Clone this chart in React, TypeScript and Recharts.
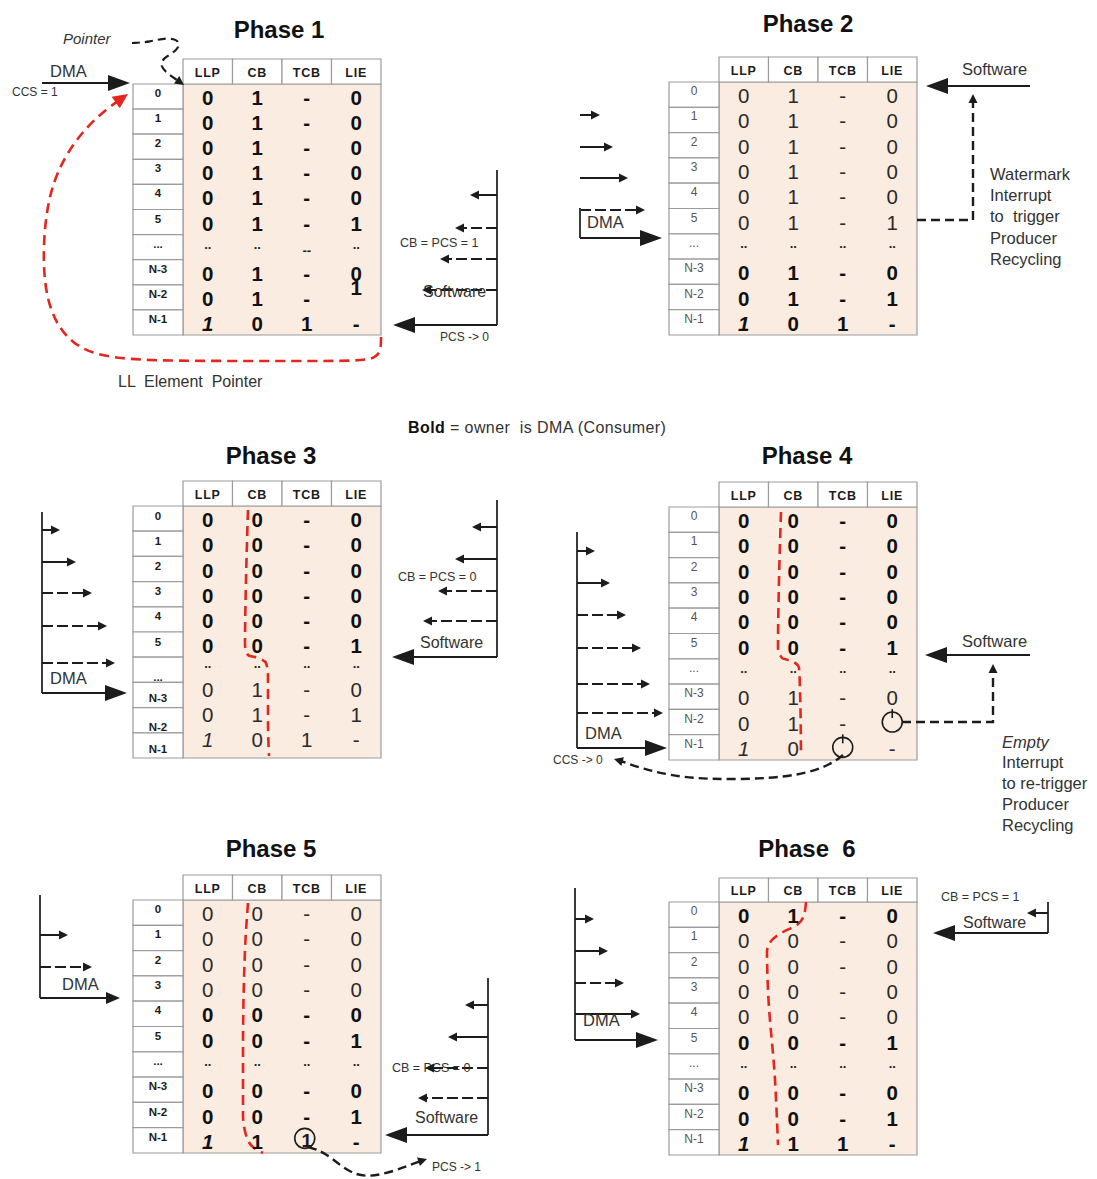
import React from "react";
import { ComposedChart, XAxis, YAxis, Line, Scatter, ReferenceArea } from "recharts";

const W = 1097;
const H = 1179;
const FONT = '"Liberation Sans", Arial, Helvetica, sans-serif';
const INK = "#1c1c1c";
const TXT = "#333333";
const RED = "#e3261f";
const PEACH = "#fbece1";
const GRID = "#9c9c9c";

const columns = ["LLP", "CB", "TCB", "LIE"];
const rowLabels = ["0", "1", "2", "3", "4", "5", "...", "N-3", "N-2", "N-1"];

// cell values per row: LLP, CB, TCB, LIE ("o" = empty circle, "(1)" = circled 1)
const phase1Values = [
  ["0", "1", "-", "0"],
  ["0", "1", "-", "0"],
  ["0", "1", "-", "0"],
  ["0", "1", "-", "0"],
  ["0", "1", "-", "0"],
  ["0", "1", "-", "1"],
  ["..", "..", "--", ".."],
  ["0", "1", "-", "0"],
  ["0", "1", "-", "1"],
  ["1", "0", "1", "-"],
];
const phase2Values = [
  ["0", "1", "-", "0"],
  ["0", "1", "-", "0"],
  ["0", "1", "-", "0"],
  ["0", "1", "-", "0"],
  ["0", "1", "-", "0"],
  ["0", "1", "-", "1"],
  ["..", "..", "..", ".."],
  ["0", "1", "-", "0"],
  ["0", "1", "-", "1"],
  ["1", "0", "1", "-"],
];
const phase3Values = [
  ["0", "0", "-", "0"],
  ["0", "0", "-", "0"],
  ["0", "0", "-", "0"],
  ["0", "0", "-", "0"],
  ["0", "0", "-", "0"],
  ["0", "0", "-", "1"],
  ["..", "..", "..", ".."],
  ["0", "1", "-", "0"],
  ["0", "1", "-", "1"],
  ["1", "0", "1", "-"],
];
const phase4Values = [
  ["0", "0", "-", "0"],
  ["0", "0", "-", "0"],
  ["0", "0", "-", "0"],
  ["0", "0", "-", "0"],
  ["0", "0", "-", "0"],
  ["0", "0", "-", "1"],
  ["..", "..", "..", ".."],
  ["0", "1", "-", "0"],
  ["0", "1", "-", "o"],
  ["1", "0", "o", "-"],
];
const phase5Values = [
  ["0", "0", "-", "0"],
  ["0", "0", "-", "0"],
  ["0", "0", "-", "0"],
  ["0", "0", "-", "0"],
  ["0", "0", "-", "0"],
  ["0", "0", "-", "1"],
  ["..", "..", "..", ".."],
  ["0", "0", "-", "0"],
  ["0", "0", "-", "1"],
  ["1", "1", "(1)", "-"],
];
const phase6Values = [
  ["0", "1", "-", "0"],
  ["0", "0", "-", "0"],
  ["0", "0", "-", "0"],
  ["0", "0", "-", "0"],
  ["0", "0", "-", "0"],
  ["0", "0", "-", "1"],
  ["..", "..", "..", ".."],
  ["0", "0", "-", "0"],
  ["0", "0", "-", "1"],
  ["1", "1", "1", "-"],
];

// bold rows = owner is DMA
const phase1Bold = [1, 1, 1, 1, 1, 1, 1, 1, 1, 1];
const phase2Bold = [0, 0, 0, 0, 0, 0, 1, 1, 1, 1];
const phase3Bold = [1, 1, 1, 1, 1, 1, 1, 0, 0, 0];
const phase4Bold = [1, 1, 1, 1, 1, 1, 0, 0, 0, 0];
const phase5Bold = [0, 0, 0, 0, 1, 1, 1, 1, 1, 1];
const phase6Bold = [1, 0, 0, 0, 0, 1, 1, 1, 1, 1];

const titles = ["Phase 1", "Phase 2", "Phase 3", "Phase 4", "Phase 5", "Phase  6"];

const phaseValues = [phase1Values, phase2Values, phase3Values, phase4Values, phase5Values, phase6Values];
const phaseBold = [phase1Bold, phase2Bold, phase3Bold, phase4Bold, phase5Bold, phase6Bold];

// ---- layout ----
const LABEL_W = 50;
const COL_W = 49.5;

type TableLayout = {
  x: number;
  top: number;
  rowsTop: number;
  bottom: number;
  titleX: number;
  titleY: number;
  labelBold: boolean;
  labelDy?: number[];
  valueDy?: number[];
  cellDy?: Record<string, number>;
};

const tableLayout: TableLayout[] = [
  { x: 133, top: 59, rowsTop: 84, bottom: 335, titleX: 279, titleY: 29, labelBold: true, cellDy: { "8-3": -11 } },
  { x: 669, top: 57, rowsTop: 82, bottom: 335, titleX: 808, titleY: 23, labelBold: false },
  {
    x: 133, top: 481, rowsTop: 506, bottom: 758, titleX: 271, titleY: 455, labelBold: true,
    labelDy: [-3, -3, -3, -3, -3, -3, 7, 3, 7, 4],
    valueDy: [0, 0, 0, 0, 0, 0, -3, -7, -7, -7],
  },
  { x: 669, top: 482, rowsTop: 507, bottom: 760, titleX: 807, titleY: 455, labelBold: false },
  { x: 133, top: 875, rowsTop: 900, bottom: 1153, titleX: 271, titleY: 848, labelBold: true },
  { x: 669, top: 878, rowsTop: 902, bottom: 1155, titleX: 807, titleY: 848, labelBold: false },
];

type Note = { text?: string; parts?: { t: string; b?: boolean }[]; x: number; y: number; size: number; italic?: boolean; ls?: number };

const notes: Note[] = [
  { text: "Pointer", x: 63, y: 38, size: 15, italic: true },
  { text: "DMA", x: 50, y: 71, size: 16.5 },
  { text: "CCS = 1", x: 12, y: 92, size: 12 },
  { text: "CB = PCS = 1", x: 400, y: 243, size: 12.5 },
  { text: "Software", x: 423, y: 291, size: 16 },
  { text: "PCS -> 0", x: 440, y: 337, size: 12 },
  { text: "LL  Element  Pointer", x: 118, y: 381, size: 16 },
  { text: "Software", x: 962, y: 69, size: 16.5 },
  { text: "DMA", x: 587, y: 222, size: 16.5 },
  { text: "Watermark", x: 990, y: 174, size: 16.5 },
  { text: "Interrupt", x: 990, y: 195, size: 16.5 },
  { text: "to  trigger", x: 990, y: 216, size: 16.5 },
  { text: "Producer", x: 990, y: 238, size: 16.5 },
  { text: "Recycling", x: 990, y: 259, size: 16.5 },
  { parts: [{ t: "Bold", b: true }, { t: " = owner  is DMA (Consumer)" }], x: 408, y: 427, size: 16, ls: 0.4 },
  { text: "DMA", x: 50, y: 678, size: 16.5 },
  { text: "CB = PCS = 0", x: 398, y: 577, size: 12.5 },
  { text: "Software", x: 420, y: 642, size: 16 },
  { text: "DMA", x: 585, y: 733, size: 16.5 },
  { text: "CCS -> 0", x: 553, y: 760, size: 12 },
  { text: "Software", x: 962, y: 641, size: 16.5 },
  { text: "Empty", x: 1002, y: 742, size: 16.5, italic: true },
  { text: "Interrupt", x: 1002, y: 762, size: 16.5 },
  { text: "to re-trigger", x: 1002, y: 783, size: 16.5 },
  { text: "Producer", x: 1002, y: 804, size: 16.5 },
  { text: "Recycling", x: 1002, y: 825, size: 16.5 },
  { text: "DMA", x: 62, y: 984, size: 16.5 },
  { text: "CB = PCS = 0", x: 392, y: 1068, size: 12.5 },
  { text: "Software", x: 415, y: 1117, size: 16 },
  { text: "PCS -> 1", x: 432, y: 1167, size: 12 },
  { text: "DMA", x: 583, y: 1020, size: 16.5 },
  { text: "CB = PCS = 1", x: 941, y: 897, size: 12.5 },
  { text: "Software", x: 963, y: 922, size: 16 },
];

// straight arrows: x1, y1, x2 (tip), y2 (tip), head size, dashed
const arrows: [number, number, number, number, string, number][] = [
  // phase 1
  [42, 83, 130, 83, "L", 0],
  [497, 170, 497, 325, "", 0],
  [497, 195, 470, 195, "S", 0],
  [497, 228, 455, 228, "S", 1],
  [497, 259, 440, 259, "S", 1],
  [497, 290, 422, 290, "S", 1],
  [497, 325, 393, 325, "L", 0],
  // phase 2
  [580, 115, 600, 115, "S", 0],
  [580, 147, 613, 147, "S", 0],
  [580, 178, 628, 178, "S", 0],
  [580, 210, 645, 210, "S", 1],
  [580, 208, 580, 238, "", 0],
  [580, 238, 662, 238, "L", 0],
  [1030, 86, 926, 86, "L", 0],
  // phase 3
  [42, 512, 42, 693, "", 0],
  [42, 530, 60, 530, "S", 0],
  [42, 562, 76, 562, "S", 0],
  [42, 593, 92, 593, "S", 1],
  [42, 626, 107, 626, "S", 1],
  [42, 663, 115, 663, "S", 1],
  [42, 693, 127, 693, "L", 0],
  [497, 500, 497, 657, "", 0],
  [497, 527, 472, 527, "S", 0],
  [497, 559, 455, 559, "S", 0],
  [497, 591, 438, 591, "S", 1],
  [497, 621, 423, 621, "S", 1],
  [497, 657, 392, 657, "L", 0],
  // phase 4
  [577, 532, 577, 748, "", 0],
  [577, 551, 595, 551, "S", 0],
  [577, 583, 610, 583, "S", 0],
  [577, 615, 626, 615, "S", 1],
  [577, 648, 641, 648, "S", 1],
  [577, 684, 650, 684, "S", 1],
  [577, 713, 663, 713, "S", 1],
  [577, 748, 667, 748, "L", 0],
  [1030, 655, 925, 655, "L", 0],
  // phase 5
  [40, 895, 40, 998, "", 0],
  [40, 935, 68, 935, "S", 0],
  [40, 967, 92, 967, "S", 1],
  [40, 998, 120, 998, "M", 0],
  [488, 978, 488, 1135, "", 0],
  [488, 1005, 465, 1005, "S", 0],
  [488, 1037, 448, 1037, "S", 0],
  [488, 1068, 425, 1068, "S", 1],
  [488, 1098, 418, 1098, "S", 1],
  [488, 1135, 385, 1135, "L", 0],
  // phase 6
  [575, 888, 575, 1040, "", 0],
  [575, 919, 594, 919, "S", 0],
  [575, 951, 608, 951, "S", 0],
  [575, 983, 624, 983, "S", 1],
  [575, 1014, 640, 1014, "S", 0],
  [575, 1040, 658, 1040, "L", 0],
  [1048, 902, 1048, 933, "", 0],
  [1048, 913, 1027, 913, "S", 0],
  [1048, 933, 933, 933, "L", 0],
];

type Path = { pts: [number, number][]; color: string; curve: string; head: string; dash: string; width: number };

const paths: Path[] = [
  // LL element pointer loop (phase 1)
  {
    pts: [[381, 337], [381, 350], [376, 358], [360, 361], [300, 361], [200, 361], [110, 360], [70, 345], [48, 310], [42, 260], [47, 200], [62, 160], [85, 128], [108, 108], [128, 94]],
    color: RED, curve: "basis", head: "R", dash: "10 6", width: 2.6,
  },
  // pointer
  {
    pts: [[132, 43], [150, 42], [167, 37], [181, 41], [177, 51], [163, 58], [160, 66], [168, 74], [177, 80], [184, 85]],
    color: INK, curve: "basis", head: "S", dash: "8 5", width: 2.2,
  },
  // watermark interrupt (phase 2)
  { pts: [[917, 220], [973, 220], [973, 94]], color: INK, curve: "linear", head: "S", dash: "9 5", width: 2.4 },
  // empty interrupt (phase 4)
  { pts: [[902, 722], [993, 722], [993, 664]], color: INK, curve: "linear", head: "S", dash: "9 5", width: 2.4 },
  { pts: [[843, 755], [832, 764], [800, 776], [740, 780], [680, 778], [640, 768], [624, 762], [614, 759]], color: INK, curve: "basis", head: "S", dash: "9 5", width: 2.4 },
  // PCS -> 1 (phase 5)
  { pts: [[308, 1147], [325, 1152], [345, 1170], [365, 1178], [392, 1172], [415, 1163], [427, 1159]], color: INK, curve: "basis", head: "S", dash: "9 5", width: 2.4 },
  // ownership boundaries
  { pts: [[248, 510], [246, 580], [245, 645], [248, 655], [258, 658], [266, 663], [268, 675], [268, 720], [269, 756]], color: RED, curve: "monotoneY", head: "", dash: "10 6", width: 2.6 },
  { pts: [[781, 512], [779, 580], [778, 648], [782, 658], [792, 661], [799, 668], [800, 690], [801, 755]], color: RED, curve: "monotoneY", head: "", dash: "10 6", width: 2.6 },
  { pts: [[248, 903], [245, 950], [243, 1050], [243, 1115], [246, 1135], [253, 1147], [263, 1153]], color: RED, curve: "monotoneY", head: "", dash: "10 6", width: 2.6 },
  { pts: [[806, 902], [804, 915], [797, 925], [783, 932], [772, 940], [767, 952], [768, 990], [775, 1080], [778, 1145]], color: RED, curve: "monotoneY", head: "", dash: "10 6", width: 2.6 },
];

const HEADS: Record<string, [number, number]> = { L: [22, 8], M: [14, 6], S: [9, 4.5], R: [15, 7] };

// ---- build marks ----
type Area = { x1: number; x2: number; y1: number; y2: number; fill: string };
const areas: Area[] = [];
const marks: any[] = [];
const lines: { pts: { x: number; y: number }[]; color: string; curve: string; dash?: string; width: number }[] = [];

tableLayout.forEach((t, ti) => {
  const rowH = (t.bottom - t.rowsTop) / rowLabels.length;
  const dataX = t.x + LABEL_W;
  areas.push({ x1: dataX, x2: dataX + COL_W * columns.length, y1: t.rowsTop, y2: t.bottom, fill: PEACH });
  marks.push({ kind: "text", x: t.titleX, y: t.titleY, text: titles[ti], anchor: "middle", size: 24, bold: true, fill: "#111" });
  columns.forEach((c, ci) => {
    areas.push({ x1: dataX + ci * COL_W, x2: dataX + (ci + 1) * COL_W, y1: t.top, y2: t.rowsTop, fill: "#ffffff" });
    marks.push({ kind: "text", x: dataX + (ci + 0.5) * COL_W, y: (t.top + t.rowsTop) / 2 + 1, text: c, anchor: "middle", size: 12.5, bold: true, ls: 0.8, fill: INK });
  });
  rowLabels.forEach((lab, ri) => {
    const y0 = t.rowsTop + ri * rowH;
    areas.push({ x1: t.x, x2: dataX, y1: y0, y2: y0 + rowH, fill: "#ffffff" });
    marks.push({
      kind: "text", x: t.x + LABEL_W / 2, y: y0 + rowH / 2 + (t.labelDy ? t.labelDy[ri] : -3.5), text: lab, anchor: "middle",
      size: t.labelBold ? 11.5 : 12, bold: t.labelBold, fill: t.labelBold ? INK : "#555",
    });
    phaseValues[ti][ri].forEach((v, ci) => {
      const cx = dataX + (ci + 0.5) * COL_W;
      const cy = y0 + rowH / 2 + (t.valueDy ? t.valueDy[ri] : 0) + ((t.cellDy && t.cellDy[`${ri}-${ci}`]) || 0);
      const bold = phaseBold[ti][ri] === 1;
      if (v === "o") {
        marks.push({ kind: "circle", x: cx, y: cy, r: 10, tick: true });
      } else if (v === "(1)") {
        marks.push({ kind: "circle", x: cx - 2, y: cy - 2, r: 10, tick: false });
        marks.push({ kind: "text", x: cx, y: cy, text: "1", anchor: "middle", size: 19, bold, fill: INK });
      } else if (v === ".." || v === "--") {
        marks.push({ kind: "text", x: cx, y: cy + (v === ".." ? -3 : 3), text: v, anchor: "middle", size: 13, bold: true, fill: INK });
      } else {
        marks.push({
          kind: "text", x: cx, y: cy + 1, text: v, anchor: "middle", size: 20.5, bold,
          italic: ri === rowLabels.length - 1 && ci === 0, fill: bold ? "#111" : "#2a2a2a",
        });
      }
    });
  });
});

notes.forEach((n) => {
  marks.push({ kind: "text", x: n.x, y: n.y, text: n.text, parts: n.parts, anchor: "start", size: n.size, italic: n.italic, ls: n.ls, fill: TXT });
});

arrows.forEach(([x1, y1, x2, y2, head, dashed]) => {
  const ang = Math.atan2(y2 - y1, x2 - x1);
  let ex = x2;
  let ey = y2;
  if (head) {
    const [len, half] = HEADS[head];
    ex = x2 - Math.cos(ang) * len * 0.7;
    ey = y2 - Math.sin(ang) * len * 0.7;
    marks.push({ kind: "head", x: x2, y: y2, angle: (ang * 180) / Math.PI, len, half, fill: INK });
  }
  lines.push({
    pts: [{ x: x1, y: y1 }, { x: ex, y: ey }], color: head ? INK : "#3a3a3a", curve: "linear",
    dash: dashed ? "11 4" : undefined, width: head === "L" || head === "M" ? 2.2 : 2,
  });
});

paths.forEach((p) => {
  const pts = p.pts.map(([x, y]) => ({ x, y }));
  if (p.head) {
    const [len, half] = HEADS[p.head];
    const a = pts[pts.length - 2];
    const b = pts[pts.length - 1];
    const ang = Math.atan2(b.y - a.y, b.x - a.x);
    marks.push({ kind: "head", x: b.x, y: b.y, angle: (ang * 180) / Math.PI, len, half, fill: p.color });
    pts[pts.length - 1] = { x: b.x - Math.cos(ang) * len * 0.7, y: b.y - Math.sin(ang) * len * 0.7 };
  }
  lines.push({ pts, color: p.color, curve: p.curve, dash: p.dash, width: p.width });
});

function Mark(props: any) {
  const { cx, cy, payload: m } = props;
  if (cx == null || cy == null || !m) return <g />;
  if (m.kind === "head") {
    return (
      <polygon
        points={`0,0 ${-m.len},${-m.half} ${-m.len},${m.half}`}
        transform={`translate(${cx},${cy}) rotate(${m.angle})`}
        fill={m.fill}
      />
    );
  }
  if (m.kind === "circle") {
    return (
      <g>
        <circle cx={cx} cy={cy} r={m.r} fill="none" stroke={INK} strokeWidth={1.6} />
        {m.tick && <line x1={cx} y1={cy - m.r - 3} x2={cx} y2={cy - m.r + 6} stroke={INK} strokeWidth={1.6} />}
      </g>
    );
  }
  return (
    <text
      x={cx}
      y={cy}
      textAnchor={m.anchor}
      dominantBaseline="central"
      fontFamily={FONT}
      fontSize={m.size}
      fontWeight={m.bold ? 700 : 400}
      fontStyle={m.italic ? "italic" : "normal"}
      letterSpacing={m.ls || 0}
      fill={m.fill}
      style={{ whiteSpace: "pre" }}
    >
      {m.parts
        ? m.parts.map((p: any, i: number) => (
            <tspan key={i} fontWeight={p.b ? 700 : 400} fill={p.b ? "#111" : m.fill}>
              {p.t}
            </tspan>
          ))
        : m.text}
    </text>
  );
}

export default function App() {
  return (
    <div style={{ position: "absolute", left: 0, top: 0, width: W, height: H, background: "#ffffff" }}>
      <ComposedChart width={W} height={H} margin={{ top: 0, right: 0, bottom: 0, left: 0 }}>
        <XAxis type="number" dataKey="x" domain={[0, W]} hide allowDataOverflow />
        <YAxis type="number" dataKey="y" domain={[0, H]} reversed hide allowDataOverflow />
        {areas.map((a, i) => (
          <ReferenceArea
            key={`a${i}`}
            x1={a.x1}
            x2={a.x2}
            y1={a.y1}
            y2={a.y2}
            fill={a.fill}
            fillOpacity={1}
            stroke={GRID}
            strokeWidth={1.2}
            ifOverflow="visible"
          />
        ))}
        {lines.map((l, i) => (
          <Line
            key={`l${i}`}
            data={l.pts}
            dataKey="y"
            type={l.curve as any}
            stroke={l.color}
            strokeWidth={l.width}
            strokeDasharray={l.dash}
            dot={false}
            activeDot={false}
            legendType="none"
            isAnimationActive={false}
          />
        ))}
        <Scatter data={marks} dataKey="y" shape={Mark} isAnimationActive={false} legendType="none" />
      </ComposedChart>
    </div>
  );
}
